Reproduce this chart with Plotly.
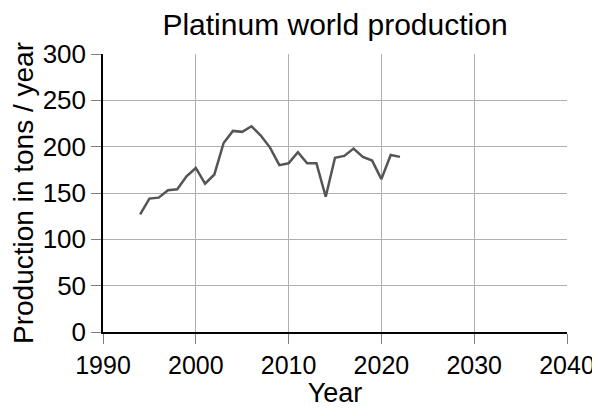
import plotly.graph_objects as go

# platinum production, tons per year ------------------------------------------
years = list(range(1994, 2023))
production = [127, 144, 145, 153, 154, 168, 177, 160, 170, 204,
              217, 216, 222, 212, 199, 180, 182, 194, 182, 182,
              146, 188, 190, 198, 189, 185, 165, 191, 189]

x_ticks = [1990, 2000, 2010, 2020, 2030, 2040]
y_ticks = [0, 50, 100, 150, 200, 250, 300]

fig = go.Figure()
fig.add_trace(go.Scatter(x=years, y=production, mode="lines",
                         line=dict(color="#555555", width=2.5),
                         showlegend=False))

axis_style = dict(showgrid=True, gridcolor="#b0b0b0", gridwidth=1,
                  showline=True, linecolor="black", linewidth=1.5,
                  ticks="outside", ticklen=10, tickcolor="#808080",
                  zeroline=False, automargin=False)

# page body has an 8px margin, so the figure is a bit smaller than the window
fig.update_layout(
    width=592, height=400,
    title=dict(text="Platinum world production", x=0.5, xref="paper", xanchor="center",
               y=1 - 16 / 400, yanchor="middle", font=dict(size=30, color="black"),
               automargin=False),
    font=dict(family="Liberation Sans, Arial, sans-serif", color="black"),
    paper_bgcolor="white", plot_bgcolor="white",
    margin=dict(l=95, r=33, t=46, b=76, autoexpand=False),
    xaxis=dict(range=[1990, 2040], tickvals=x_ticks,
               tickfont=dict(size=25, color="black"),
               title=dict(text="Year", font=dict(size=27), standoff=7),
               **axis_style),
    yaxis=dict(range=[0, 300], tickvals=y_ticks,
               tickfont=dict(size=26, color="black"),
               title=dict(text="Production in tons / year", font=dict(size=28), standoff=4),
               **axis_style),
)

fig.write_html("out.html")
